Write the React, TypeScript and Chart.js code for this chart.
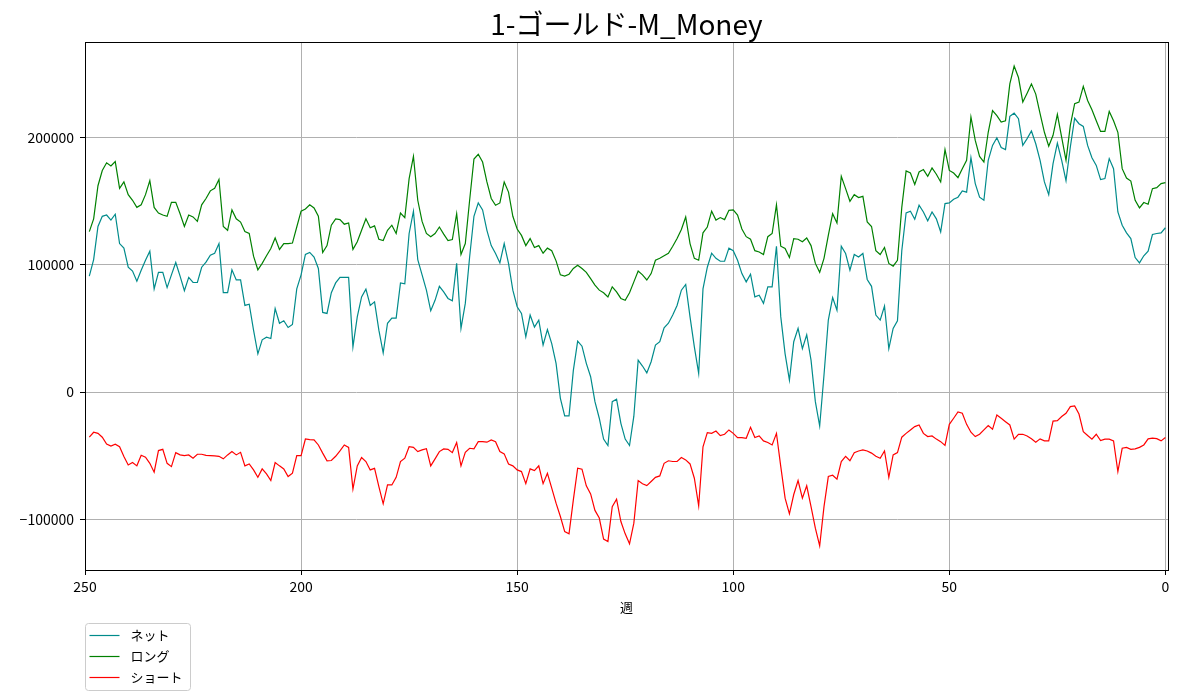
import { useEffect, useRef } from "react";
import { Chart, registerables } from "chart.js";

Chart.register(...registerables);

const TITLE = "1-ゴールド-M_Money";
const X_LABEL = "週";
const FONT = '"Noto Sans CJK JP", "Noto Sans", sans-serif';

// weeks back from the latest report, oldest first (249 ... 0)
const weeks = Array.from({ length: 250 }, (_, i) => 249 - i);

const net = [
  91000, 104000, 130000, 138000, 139000, 135000, 139600, 116600, 113000, 98000,
  95000, 87000, 95700, 103500, 110600, 81000, 94000, 94000, 82000, 92000,
  101700, 91000, 79500, 90000, 86000, 86000, 98000, 102000, 107500, 109000,
  116600, 78000, 78000, 96000, 88000, 88000, 68000, 69000, 48600, 30000,
  41000, 43000, 42000, 65600, 54000, 56000, 50700, 53000, 81000, 92000,
  108000, 109600, 106000, 97000, 62500, 61700, 78000, 85700, 90000, 90000,
  90000, 35500, 59000, 74700, 80800, 68000, 70800, 48600, 30800, 54000,
  58000, 58000, 85700, 85000, 124500, 142000, 104000, 92000, 80000, 63800,
  72000, 83000, 78700, 73500, 71600, 101000, 50000, 69600, 106000, 138000,
  148500, 143000, 127000, 115000, 108800, 101400, 116600, 101000, 80000, 67000,
  61700, 43400, 60400, 51000, 56500, 36900, 49000, 38000, 22500, -5000,
  -18800, -18800, 17000, 40000, 36000, 22500, 12000, -7600, -20600, -37000,
  -42000, -7600, -5700, -24600, -37000, -42000, -19000, 25000, 20400, 15000,
  23800, 36900, 39500, 50500, 54000, 60400, 68000, 80000, 84500, 59000,
  35500, 14600, 81000, 98000, 109000, 105000, 102700, 102700, 113000, 111000,
  103500, 93000, 86500, 92500, 74700, 76000, 69600, 82600, 82600, 114500,
  59000, 30000, 9400, 39500, 50000, 34000, 45000, 25000, -7600, -26700,
  13300, 56500, 74200, 64300, 114500, 108800, 95700, 108000, 106000, 108800,
  88400, 83000, 60400, 56500, 67500, 34000, 50000, 56000, 111000, 140600,
  142000, 135700, 146700, 141400, 134400, 141400, 136000, 125700, 148000, 148500,
  151400, 153000, 158000, 157000, 184000, 163700, 153000, 150600, 182000, 193700,
  199700, 192000, 190400, 216500, 219000, 214700, 193700, 199000, 205000, 195000,
  182000, 165000, 155000, 179400, 195500, 182000, 166000, 192400, 215000, 210700,
  208600, 193700, 184000, 178000, 166800, 167600, 183300, 175400, 141400, 131000,
  125000, 120500, 105600, 101400, 107000, 110600, 123700, 124500, 125000, 129000,
];

const long = [
  126000, 136000, 162000, 174000, 180000, 177500, 181000, 160000, 165000, 155000,
  150600, 145000, 147000, 155000, 166000, 145000, 140600, 139000, 138000, 149000,
  149000, 140000, 130000, 139000, 137500, 134000, 147000, 152000, 158000, 160000,
  167000, 130000, 127000, 143000, 136000, 133500, 126000, 124500, 106700, 96000,
  101000, 107000, 112700, 121000, 112000, 116600, 116600, 117000, 129600, 142000,
  143800, 147000, 144600, 138000, 109600, 115000, 131000, 136000, 135400, 131800,
  132800, 112000, 118000, 127000, 136000, 129000, 130500, 120000, 119000, 127000,
  131000, 124500, 140600, 137000, 167600, 185000, 150600, 134000, 124500, 122000,
  124500, 129600, 124000, 119000, 119700, 140000, 108000, 116600, 150600, 183000,
  186700, 180600, 165000, 152000, 146700, 148500, 165000, 157000, 138000, 128000,
  123000, 115000, 120500, 113500, 115000, 109000, 113000, 111000, 103000, 92000,
  91000, 92500, 97000, 99600, 97000, 94000, 89000, 84000, 80000, 78000,
  74700, 82600, 78700, 73500, 72000, 78000, 86500, 95000, 92000, 88000,
  93000, 103500, 105000, 107000, 109000, 114500, 120500, 127600, 137500, 116600,
  105000, 103500, 125000, 129600, 142000, 135000, 137000, 135400, 142700, 143000,
  139000, 128000, 122000, 120000, 111000, 110000, 108000, 122000, 124500, 147000,
  114500, 112700, 105600, 120500, 120000, 118000, 121000, 115000, 101000, 94000,
  105000, 123000, 140000, 132800, 169400, 159700, 149800, 155000, 152700, 153700,
  133600, 130000, 111000, 108000, 113500, 101000, 98800, 103500, 145000, 173600,
  172000, 163000, 172800, 174700, 169400, 176000, 171000, 165000, 190400, 174000,
  172000, 168400, 175400, 182000, 216000, 197600, 185000, 180600, 204000, 221000,
  217000, 212000, 213000, 242000, 256000, 247000, 227700, 234700, 242000, 234000,
  218600, 204000, 193000, 201600, 218000, 200000, 182000, 209400, 226400, 227700,
  240000, 229000, 221700, 213000, 204700, 204700, 220400, 213000, 204000, 175400,
  168000, 165700, 150600, 144600, 148800, 147500, 159700, 160500, 163700, 164500,
];

const short = [
  -35500, -31600, -32500, -35500, -40800, -42400, -41000, -43000, -50700, -57300,
  -55400, -58000, -49700, -51200, -56000, -63000, -46000, -45000, -56000, -58600,
  -47600, -49400, -50000, -49400, -52000, -48900, -48900, -49800, -50000, -50200,
  -50500, -52500, -49400, -46800, -49400, -47400, -58000, -56500, -61200, -67000,
  -60400, -64300, -69500, -55400, -58000, -60400, -66400, -63800, -50000, -50000,
  -36900, -37400, -37600, -41600, -48000, -54000, -53800, -50500, -46300, -41600,
  -43500, -76300, -58000, -51500, -54600, -61200, -60000, -74300, -87800, -73000,
  -73000, -67000, -54600, -52000, -43000, -43500, -46800, -45500, -44500, -58000,
  -52500, -46800, -44700, -45000, -47600, -39700, -58000, -47400, -44200, -44700,
  -39000, -39000, -39400, -37600, -39000, -46800, -48600, -56500, -58000, -61200,
  -62500, -72000, -60400, -61700, -58000, -72000, -63800, -75500, -87300, -97800,
  -109600, -111400, -84700, -59800, -60600, -73700, -80000, -93000, -99000, -115500,
  -117400, -90000, -84200, -101700, -111400, -119200, -103000, -69500, -72000, -73500,
  -70300, -67000, -65900, -56000, -54000, -54600, -54600, -51500, -53300, -56500,
  -67700, -89400, -43000, -31900, -32500, -30600, -34200, -33200, -29800, -32500,
  -35800, -35800, -36300, -27700, -35800, -34500, -38400, -39700, -41600, -32500,
  -58600, -83400, -95700, -80500, -69500, -83400, -73700, -90000, -107000, -120800,
  -90000, -66400, -65400, -68500, -54600, -50500, -54000, -47600, -46300, -45500,
  -46300, -48000, -50500, -52000, -46300, -67000, -49400, -47600, -35500, -32500,
  -29800, -27200, -25900, -32500, -35000, -34500, -37000, -39000, -42000, -25400,
  -20600, -15700, -16700, -25400, -31600, -35000, -33200, -29800, -26400, -29300,
  -18000, -20600, -23300, -25900, -37000, -33200, -33200, -34500, -36800, -39400,
  -36800, -38400, -38400, -22800, -22500, -19300, -16700, -11500, -11000, -17300,
  -31100, -34200, -37000, -33200, -38100, -37000, -37000, -38400, -62500, -44200,
  -43500, -45000, -44700, -43500, -41600, -36800, -36300, -36600, -38400, -35800,
];

const seriesLabels = ["ネット", "ロング", "ショート"];
const seriesColors = ["#008b8b", "#008000", "#ff0000"];

const xTicks = [250, 200, 150, 100, 50, 0];
const yTicks = [-100000, 0, 100000, 200000];

// title, the closed axes frame and the boxed legend under the plot
const decorations = {
  id: "decorations",
  afterDraw(chart: Chart) {
    const { ctx, chartArea: a } = chart;
    ctx.save();

    ctx.fillStyle = "#000";
    ctx.font = `28px ${FONT}`;
    ctx.textAlign = "center";
    ctx.textBaseline = "alphabetic";
    ctx.fillText(TITLE, (a.left + a.right) / 2, a.top - 7);

    // same half-pixel snapping as the axis borders, so the lines coincide
    ctx.strokeStyle = "#000";
    ctx.lineWidth = 1;
    const l = Math.round(a.left) + 0.5;
    const t = Math.round(a.top) + 0.5;
    const r = Math.round(a.right) + 0.5;
    const b = Math.round(a.bottom) + 0.5;
    ctx.strokeRect(l, t, r - l, b - t);

    ctx.font = `13px ${FONT}`;
    ctx.textAlign = "left";
    ctx.textBaseline = "middle";
    const sets = chart.data.datasets;
    const textW = Math.max(...sets.map((d) => ctx.measureText(String(d.label)).width));
    const boxX = l;
    const boxY = b + 53;
    const boxW = 45 + textW + 8;
    const rowH = 21;
    const boxH = sets.length * rowH + 4;
    ctx.beginPath();
    ctx.roundRect(boxX, boxY, boxW, boxH, 3);
    ctx.fillStyle = "rgba(255,255,255,0.8)";
    ctx.fill();
    ctx.strokeStyle = "#cccccc";
    ctx.stroke();
    sets.forEach((d, i) => {
      const y = boxY + 12 + i * rowH;
      ctx.strokeStyle = String(d.borderColor);
      ctx.lineWidth = 1.2;
      ctx.beginPath();
      ctx.moveTo(boxX + 4, y);
      ctx.lineTo(boxX + 34, y);
      ctx.stroke();
      ctx.fillStyle = "#000";
      ctx.fillText(String(d.label), boxX + 45, y);
    });

    ctx.restore();
  },
};

export default function App() {
  const canvasRef = useRef<HTMLCanvasElement | null>(null);

  useEffect(() => {
    document.body.style.margin = "0";
    if (!canvasRef.current) {
      return;
    }

    const values = [net, long, short];
    const chart = new Chart(canvasRef.current, {
      type: "line",
      data: {
        datasets: values.map((series, index) => ({
          label: seriesLabels[index],
          data: weeks.map((w, i) => ({ x: w, y: series[i] })),
          borderColor: seriesColors[index],
          backgroundColor: seriesColors[index],
          borderWidth: 1.2,
          pointRadius: 0,
          tension: 0,
          fill: false,
        })),
      },
      options: {
        animation: false,
        responsive: false,
        layout: { padding: { top: 42, right: 12, bottom: 80, left: 0 } },
        plugins: {
          legend: { display: false },
          title: { display: false },
          tooltip: { enabled: false },
        },
        scales: {
          x: {
            type: "linear",
            reverse: true,
            min: -0.6,
            max: 250,
            afterBuildTicks: (scale) => {
              scale.ticks = xTicks.map((value) => ({ value }));
            },
            afterFit: (scale) => {
              scale.height = 50;
            },
            grid: { color: "#b0b0b0", lineWidth: 1, tickColor: "#000", tickLength: 5 },
            border: { color: "#000", width: 1 },
            ticks: {
              color: "#000",
              font: { family: FONT, size: 14 },
              padding: 3,
              maxRotation: 0,
              autoSkip: false,
            },
            title: {
              display: true,
              text: X_LABEL,
              color: "#000",
              font: { family: FONT, size: 13 },
              padding: { top: 0, bottom: 5 },
            },
          },
          y: {
            type: "linear",
            min: -139800,
            max: 274900,
            afterBuildTicks: (scale) => {
              scale.ticks = yTicks.map((value) => ({ value }));
            },
            afterFit: (scale) => {
              scale.width = 85;
            },
            grid: { color: "#b0b0b0", lineWidth: 1, tickColor: "#000", tickLength: 5 },
            border: { color: "#000", width: 1 },
            ticks: {
              color: "#000",
              font: { family: FONT, size: 14 },
              padding: 6,
              callback: (v) => (Number(v) < 0 ? "\u2212" + Math.abs(Number(v)) : String(v)),
            },
          },
        },
      },
      plugins: [decorations],
    });

    return () => {
      chart.destroy();
    };
  }, []);

  return (
    <div style={{ width: 1180, height: 700 }}>
      <canvas ref={canvasRef} width={1180} height={700} />
    </div>
  );
}
